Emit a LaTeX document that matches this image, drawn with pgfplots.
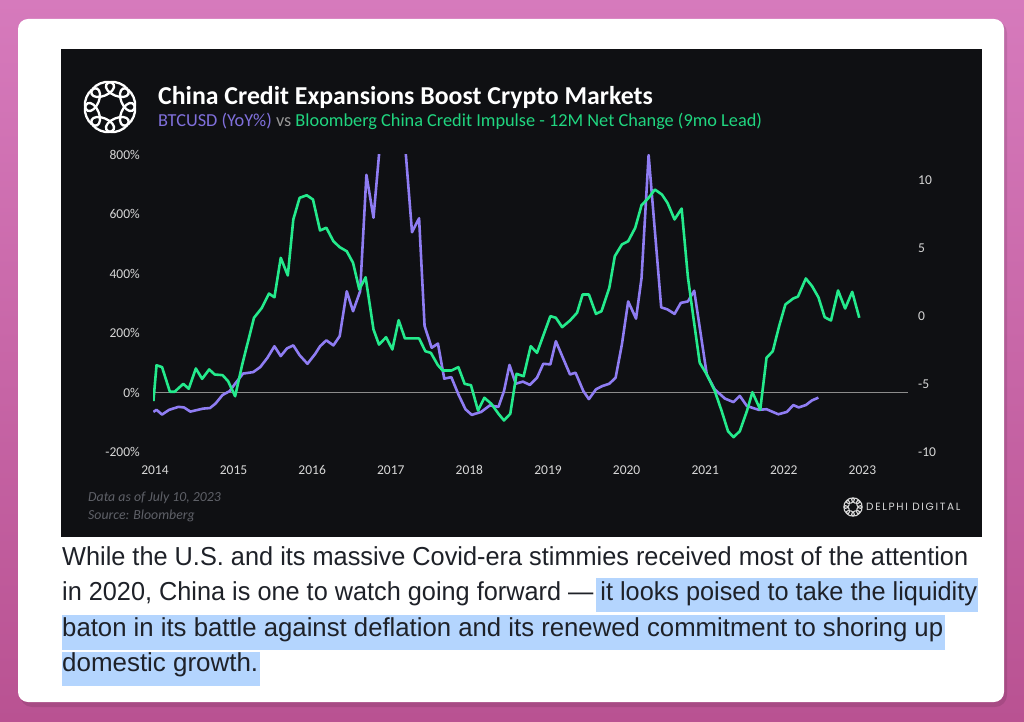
\documentclass[border=0pt]{standalone}
\usepackage{pgfplots}
\pgfplotsset{compat=1.18}
\usepackage{fontspec}
\setmainfont{Carlito}
\newfontfamily\bodyfont{Liberation Sans}
\newfontfamily\delphifont[LetterSpace=16]{Poppins}
\definecolor{pinkA}{RGB}{214,122,188}
\definecolor{pinkB}{RGB}{185,82,146}
\definecolor{chartbg}{RGB}{15,16,19}
\definecolor{btc}{RGB}{143,125,243}
\definecolor{credit}{RGB}{36,234,140}
\definecolor{ticktxt}{RGB}{215,215,215}
\definecolor{subpurple}{RGB}{128,112,220}
\definecolor{subgreen}{RGB}{32,214,128}
\definecolor{subgray}{RGB}{150,150,150}
\definecolor{footgray}{RGB}{95,97,104}
\definecolor{hl}{RGB}{180,213,254}
\definecolor{bodytxt}{RGB}{30,33,40}
\definecolor{zeroline}{RGB}{140,140,140}
\begin{document}
\begin{tikzpicture}[x=1pt,y=1pt]
\useasboundingbox (0,0) rectangle (1024,721);
\shade[top color=pinkA,bottom color=pinkB] (0,0) rectangle (1024,721);
\fill[black,opacity=0.10,rounded corners=12] (20,14) rectangle (1007,700);
\fill[white,rounded corners=10] (18,19) rectangle (1004,702);
\fill[chartbg] (61,184) rectangle (982,672);
% logo
\foreach \a in {0,45,...,315}{
  \draw[white,line width=2.3,shift={(110,614)},rotate=\a+22.5] (19,0) ellipse [x radius=6.5, y radius=12];
}
\node[anchor=base west,inner sep=0,text=white,font=\bfseries\fontsize{25.8}{30}\selectfont] at (158,616.5) {China Credit Expansions Boost Crypto Markets};
\node[anchor=base west,inner sep=0,font=\fontsize{18.3}{21}\selectfont] at (158,594) {\textcolor{subpurple}{BTCUSD (YoY\%)} \textcolor{subgray}{vs} \textcolor{subgreen}{Bloomberg China Credit Impulse - 12M Net Change (9mo Lead)}};
% footer
\node[anchor=base west,inner sep=0,text=footgray,font=\itshape\fontsize{13.8}{15}\selectfont] at (88,220) {Data as of July 10, 2023};
\node[anchor=base west,inner sep=0,text=footgray,font=\itshape\fontsize{13.8}{15}\selectfont] at (88,202) {Source: Bloomberg};
\foreach \a in {0,45,...,315}{
  \draw[white!85!black,line width=1.1,shift={(853,214)},rotate=\a+22.5] (6.8,0) ellipse [x radius=2.4, y radius=4.3];
}
\node[anchor=west,inner sep=0,text=white!85!black,font=\delphifont\fontsize{10.5}{12}\selectfont] at (866,214) {DELPHI DIGITAL};
% axes
\begin{axis}[
  at={(153pt,269pt)}, anchor=south west,
  scale only axis, width=755pt, height=297pt,
  xmin=2013.975, xmax=2023.58, ymin=-200, ymax=800,
  axis line style={draw=none}, major tick length=0pt, tick style={draw=none},
  xtick={2014,2015,2016,2017,2018,2019,2020,2021,2022,2023},
  xticklabels={2014,2015,2016,2017,2018,2019,2020,2021,2022,2023},
  ytick={-200,0,200,400,600,800},
  yticklabels={-200\%,0\%,200\%,400\%,600\%,800\%},
  ticklabel style={font=\fontsize{13.5}{15}\selectfont, text=ticktxt},
  yticklabel style={anchor=east, inner sep=0pt, xshift=-13pt},
  xticklabel style={anchor=base, inner sep=0pt, yshift=-22.5pt},
]
\draw[zeroline,line width=1.2pt] (axis cs:2013.975,0) -- (axis cs:2023.58,0);
\addplot[btc,line width=2.6pt,line join=round] coordinates {
(2013.98,-65)(2014.02,-58)(2014.09,-74)(2014.18,-58)(2014.30,-48)(2014.37,-50)(2014.45,-64)(2014.53,-59)(2014.61,-54)(2014.70,-52)(2014.77,-37)(2014.86,-8)(2014.95,5)(2015.02,30)(2015.12,64)(2015.25,69)(2015.34,86)(2015.43,117)(2015.52,156)(2015.60,123)(2015.68,149)(2015.76,159)(2015.84,126)(2015.94,97)(2016.04,131)(2016.10,156)(2016.18,176)(2016.27,159)(2016.35,190)(2016.44,341)(2016.52,274)(2016.61,341)(2016.69,733)(2016.78,589)(2016.86,830)(2016.94,1300)(2017.02,1700)(2017.10,1400)(2017.18,840)(2017.27,540)(2017.36,587)(2017.43,224)(2017.52,151)(2017.60,165)(2017.68,47)(2017.77,52)(2017.86,-6)(2017.95,-56)(2018.03,-75)(2018.15,-65)(2018.26,-43)(2018.37,-48)(2018.44,5)(2018.51,93)(2018.59,30)(2018.68,37)(2018.77,26)(2018.86,50)(2018.94,97)(2019.03,95)(2019.10,173)(2019.19,117)(2019.28,61)(2019.35,67)(2019.45,5)(2019.52,-22)(2019.61,11)(2019.69,22)(2019.78,30)(2019.86,50)(2019.94,162)(2020.02,307)(2020.12,249)(2020.19,386)(2020.28,800)(2020.44,287)(2020.52,280)(2020.61,265)(2020.69,302)(2020.78,307)(2020.86,343)(2021.02,61)(2021.12,11)(2021.25,-20)(2021.36,-32)(2021.44,-11)(2021.53,-45)(2021.68,-58)(2021.78,-56)(2021.93,-73)(2022.04,-65)(2022.12,-42)(2022.19,-50)(2022.28,-42)(2022.36,-26)(2022.44,-17)
};
\end{axis}
\begin{axis}[
  at={(153pt,269pt)}, anchor=south west,
  scale only axis, width=755pt, height=297pt,
  xmin=2013.975, xmax=2023.58, ymin=-10, ymax=11.84,
  hide x axis, axis y line*=right,
  axis line style={draw=none}, major tick length=0pt, tick style={draw=none},
  ytick={-10,-5,0,5,10},
  yticklabels={-10,-5,0,5,10},
  ticklabel style={font=\fontsize{13.5}{15}\selectfont, text=ticktxt},
  yticklabel style={anchor=west, inner sep=0pt, xshift=10pt},
]
\addplot[credit,line width=2.6pt,line join=round] coordinates {
(2013.98,-6.26)(2014.02,-3.62)(2014.09,-3.76)(2014.19,-5.57)(2014.25,-5.57)(2014.36,-4.99)(2014.43,-5.35)(2014.52,-3.86)(2014.60,-4.62)(2014.69,-3.93)(2014.76,-4.30)(2014.86,-4.35)(2014.93,-4.79)(2015.02,-5.90)(2015.11,-3.57)(2015.26,-0.13)(2015.36,0.60)(2015.45,1.65)(2015.52,1.38)(2015.60,4.28)(2015.69,2.98)(2015.76,7.10)(2015.84,8.69)(2015.93,8.88)(2016.01,8.57)(2016.10,6.29)(2016.18,6.49)(2016.27,5.50)(2016.35,5.06)(2016.44,4.76)(2016.52,3.91)(2016.60,1.95)(2016.68,2.85)(2016.78,-0.99)(2016.85,-2.10)(2016.94,-1.56)(2017.02,-2.46)(2017.10,-0.31)(2017.18,-1.65)(2017.36,-1.65)(2017.44,-2.59)(2017.51,-2.71)(2017.60,-3.62)(2017.66,-4.01)(2017.77,-4.01)(2017.86,-3.76)(2017.94,-4.99)(2018.02,-5.09)(2018.11,-6.95)(2018.19,-6.01)(2018.28,-6.46)(2018.37,-7.19)(2018.44,-7.68)(2018.52,-7.19)(2018.60,-4.25)(2018.69,-4.43)(2018.78,-2.22)(2018.86,-2.71)(2019.03,-0.01)(2019.10,-0.13)(2019.18,-0.82)(2019.28,-0.33)(2019.37,0.24)(2019.44,1.58)(2019.52,1.58)(2019.61,0.16)(2019.68,0.35)(2019.78,2.07)(2019.85,4.40)(2019.94,5.26)(2020.02,5.50)(2020.11,6.49)(2020.19,8.15)(2020.28,8.69)(2020.36,9.30)(2020.45,8.93)(2020.52,8.32)(2020.61,7.10)(2020.70,7.90)(2020.78,2.85)(2020.85,-0.13)(2020.93,-3.44)(2021.02,-4.30)(2021.12,-5.48)(2021.21,-7.00)(2021.29,-8.47)(2021.36,-8.91)(2021.44,-8.47)(2021.53,-7.00)(2021.60,-5.60)(2021.70,-6.88)(2021.78,-3.07)(2021.86,-2.59)(2021.94,-0.75)(2022.02,0.85)(2022.12,1.29)(2022.18,1.43)(2022.28,2.76)(2022.36,2.19)(2022.44,1.38)(2022.52,-0.09)(2022.60,-0.33)(2022.69,1.88)(2022.78,0.55)(2022.87,1.78)(2022.96,-0.13)
};
\end{axis}
% body text highlights
\fill[hl] (596,109) rectangle (978,143);
\fill[hl] (62,71) rectangle (945,106);
\fill[hl] (62,35) rectangle (260,69);
\node[anchor=base west,inner sep=0,text=bodytxt] at (62,156) {\resizebox{906pt}{\height}{\bodyfont\fontsize{26}{30}\selectfont While the U.S. and its massive Covid-era stimmies received most of the attention}};
\node[anchor=base west,inner sep=0,text=bodytxt] at (62,121) {\resizebox{915pt}{\height}{\bodyfont\fontsize{26}{30}\selectfont in 2020, China is one to watch going forward — it looks poised to take the liquidity}};
\node[anchor=base west,inner sep=0,text=bodytxt] at (62,85) {\resizebox{881pt}{\height}{\bodyfont\fontsize{26}{30}\selectfont baton in its battle against deflation and its renewed commitment to shoring up}};
\node[anchor=base west,inner sep=0,text=bodytxt] at (62,50) {\resizebox{196pt}{\height}{\bodyfont\fontsize{26}{30}\selectfont domestic growth.}};
\end{tikzpicture}
\end{document}
